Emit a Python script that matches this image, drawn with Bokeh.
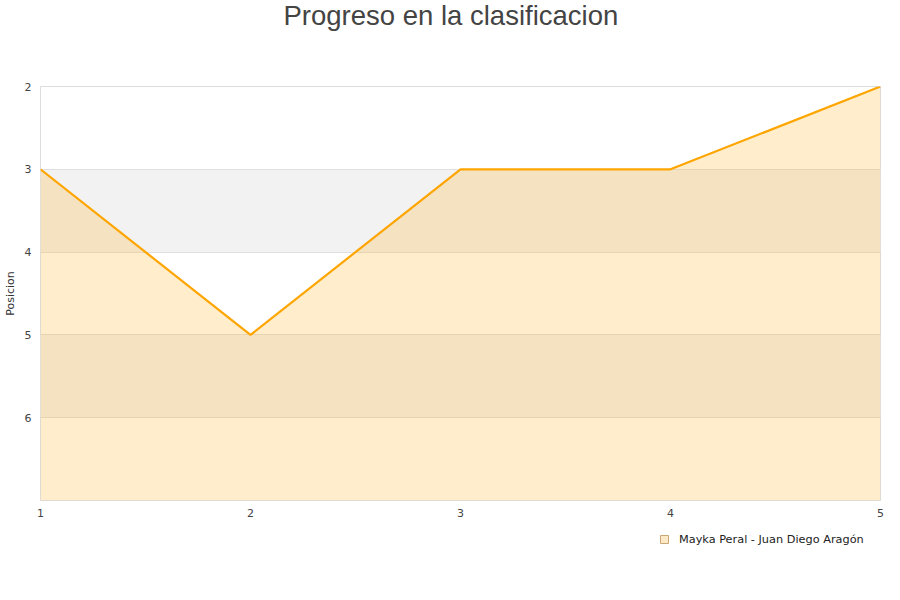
from bokeh.plotting import figure
from bokeh.models import Range1d, FixedTicker, Legend, LegendItem, ColumnDataSource, Title
from bokeh.layouts import column
from bokeh.embed import file_html
from bokeh.resources import INLINE

# Data
jornadas = [1, 2, 3, 4, 5]
posiciones = [3, 5, 3, 3, 2]
serie = "Mayka Peral - Juan Diego Aragón"
titulo = "Progreso en la clasificacion"
y_ticks = [2, 3, 4, 5, 6]
y_top, y_bottom = 2, 7

src = ColumnDataSource(dict(x=jornadas, y=posiciones, base=[y_bottom] * len(jornadas)))

p = figure(width=884, height=522, output_backend="svg", toolbar_location=None,
           x_range=Range1d(1, 5), y_range=Range1d(y_bottom, y_top),
           min_border_left=40, min_border_right=4, min_border_top=86, min_border_bottom=22)

# spacer (closest to frame) then the real title
p.add_layout(Title(text=" ", text_font_size="1px", standoff=51), "above")
p.add_layout(Title(text=titulo, text_font="Liberation Sans", text_font_size="27.5px",
                   text_font_style="normal", text_color="#444444", align="left",
                   offset=243, vertical_align="top", standoff=-1), "above")

p.outline_line_color = "#dddddd"
p.outline_line_width = 1

# axes
for ax in (p.xaxis[0], p.yaxis[0]):
    ax.axis_line_color = None
    ax.major_tick_line_color = None
    ax.minor_tick_line_color = None
    ax.major_tick_out = 0
    ax.major_tick_in = 0
    ax.minor_tick_out = 0
    ax.minor_tick_in = 0
    ax.major_label_text_font = "DejaVu Sans"
    ax.major_label_text_font_size = "11px"
    ax.major_label_text_color = "#444444"
p.xaxis.ticker = FixedTicker(ticks=jornadas)
p.xaxis.major_label_standoff = 8
p.yaxis.ticker = FixedTicker(ticks=y_ticks)
p.yaxis.major_label_standoff = 9
p.yaxis.axis_label = "Posicion"
p.yaxis.axis_label_text_font = "DejaVu Sans"
p.yaxis.axis_label_text_font_size = "11px"
p.yaxis.axis_label_text_font_style = "normal"
p.yaxis.axis_label_text_color = "#333333"
p.yaxis.axis_label_standoff = 5

p.xgrid.grid_line_color = None
p.ygrid.grid_line_color = "#e0e0e0"
p.ygrid.band_fill_color = "#f2f2f2"
p.ygrid.band_fill_alpha = 1.0

p.varea(x="x", y1="y", y2="base", source=src, fill_color="orange", fill_alpha=0.2)
p.line("x", "y", source=src, line_color="#ffa500", line_width=2.2)

# legend strip below the chart
lf = figure(width=884, height=62, output_backend="svg", toolbar_location=None,
            x_range=Range1d(100, 101), y_range=Range1d(100, 101),
            min_border=0, outline_line_color=None)
lf.axis.visible = False
lf.grid.visible = False
leg_r = lf.scatter("x", "y", source=src, marker="square", size=0,
                   fill_color="#fde9c6", line_color="#c9a878", line_width=1)
legend = Legend(items=[LegendItem(label=serie, renderers=[leg_r])],
                location=(614, 35), orientation="vertical",
                padding=0, margin=0, spacing=0,
                glyph_width=20, glyph_height=20, label_standoff=5,
                label_text_font="DejaVu Sans", label_text_font_size="11.3px",
                label_text_color="#222222",
                border_line_color=None, background_fill_alpha=0)
lf.add_layout(legend)

layout = column(p, lf, spacing=0)
open("out.html", "w").write(file_html(layout, INLINE))
